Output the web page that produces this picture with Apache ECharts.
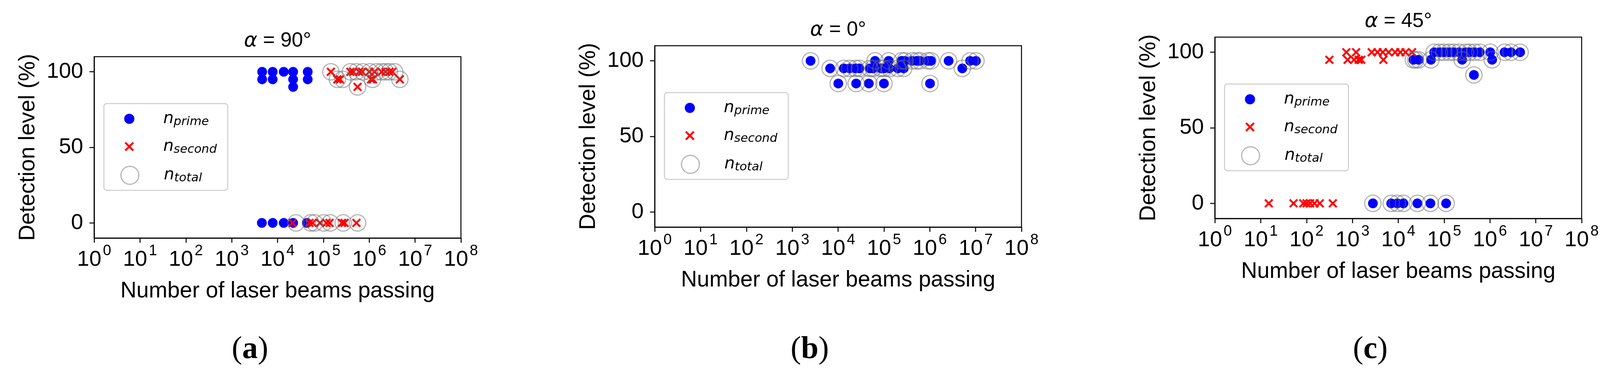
<!DOCTYPE html>
<html><head><meta charset="utf-8">
<script src="https://cdn.jsdelivr.net/npm/echarts@6/dist/echarts.min.js"></script>
<style>html,body{margin:0;padding:0;background:#fff}#main{width:4140px;height:962px}</style>
</head><body><div id="main"></div>
<script>
// ---------------- data ----------------
const panelAngles = ['90°', '0°', '45°'];
const panelLetters = ['a', 'b', 'c'];
const legendNames = ['prime', 'second', 'total'];
const xAxisTitle = 'Number of laser beams passing';
const yAxisTitle = 'Detection level (%)';
const yTickValues = [0, 50, 100];
const xMin = 1, xMax = 1e8;
const yMin = -10, yMax = 110;

// panel (a)  alpha = 90°
const a_prime = [[4620,100],[4620,95],[7840,100],[7840,95],[13650,100],[21870,100],[21870,95],[21870,90],[45500,100],[45500,95],
  [4550,0],[7840,0],[13650,0],[21870,0],[43650,0]];
const a_second = [[145600,100],[201800,95],[230000,95],[388000,100],[450000,100],[556000,90],[600000,100],[700000,100],[1000000,100],
  [1100000,95],[1200000,95],[1300000,100],[1866000,100],[2270000,100],[2760000,100],[3200000,100],[4650000,95],
  [21200,0],[49500,0],[58300,0],[84300,0],[116000,0],[136500,0],[254000,0],[290000,0],[526000,0]];
const a_total = [[145600,100],[201800,95],[265000,95],[388000,100],[521000,100],[722000,100],[556000,90],[1035000,100],[1180000,95],
  [1435000,100],[1866000,100],[2270000,100],[2760000,100],[3590000,100],[4650000,95],
  [25200,0],[52800,0],[64300,0],[101600,0],[141000,0],[271000,0],[556000,0]];

// panel (b)  alpha = 0°
const b_prime = [[2512,100],[64000,100],[127000,100],[244000,100],[288000,100],[413000,100],[519000,100],[611000,100],[905000,100],
  [1065000,100],[2575000,100],[7580000,100],[10160000,100],
  [6700,95],[13300,95],[17860,95],[23970,95],[29200,95],[49300,95],[58000,95],[85900,95],[101000,95],[131500,95],[201000,95],[270000,95],[5120000,95],
  [10100,85],[24800,85],[46800,85],[100000,85],[1012000,85]];
const b_second = [];
const b_total = [[2512,100],[64000,100],[127000,100],[244000,100],[288000,100],[413000,100],[519000,100],[611000,100],[905000,100],
  [1065000,100],[2575000,100],[7580000,100],[10160000,100],
  [6700,95],[13300,95],[17860,95],[23970,95],[29200,95],[49300,95],[58000,95],[85900,95],[101000,95],[131500,95],[201000,95],[270000,95],[5120000,95],
  [10100,85],[24800,85],[46800,85],[100000,85],[1012000,85]];

// panel (c)  alpha = 45°
const c_prime = [[60900,100],[79000,100],[99300,100],[129000,100],[162000,100],[211000,100],[292000,100],[356000,100],[462000,100],
  [600000,100],[1012000,100],[2080000,100],[2880000,100],[4550000,100],
  [21400,95],[27800,95],[51700,95],[248000,95],[1117000,95],[447000,85],
  [2800,0],[7030,0],[9550,0],[12970,0],[26100,0],[50300,0],[110700,0]];
const c_second = [[738,100],[1205,100],[2640,100],[3540,100],[4600,100],[6170,100],[8560,100],[11130,100],[14430,100],[20030,100],
  [315,95],[787,95],[1092,95],[1372,95],[1563,95],[4750,95],
  [15,0],[52,0],[85,0],[100,0],[120,0],[149,0],[194,0],[374,0]];
const c_total = [[60900,100],[79000,100],[99300,100],[129000,100],[162000,100],[211000,100],[292000,100],[356000,100],[462000,100],
  [600000,100],[1012000,100],[2080000,100],[2880000,100],[4550000,100],
  [21400,95],[24000,95],[27800,95],[51700,95],[248000,95],[1117000,95],[447000,85],
  [2800,0],[7030,0],[9550,0],[12970,0],[26100,0],[50300,0],[110700,0]];

const panelData = [
  [a_prime, a_second, a_total],
  [b_prime, b_second, b_total],
  [c_prime, c_second, c_total]
];

// ---------------- layout / style ----------------
const SANS = '"Liberation Sans", Arial, Helvetica, sans-serif';
const DEJAVU = '"DejaVu Sans", sans-serif';
const SERIF = '"Liberation Serif", "Times New Roman", serif';
const gridPos = [{left: 241, top: 145}, {left: 1676, top: 117}, {left: 3110, top: 95}];
const GW = 939, GH = 464;
const letterX = [640, 2073, 3508];
const XPATH = 'path://M0,1.5L1.5,0L5,3.5L8.5,0L10,1.5L6.5,5L10,8.5L8.5,10L5,6.5L1.5,10L0,8.5L3.5,5Z';
const RING = 'rgba(110,110,110,0.5)';

const chart = echarts.init(document.getElementById('main'), null, {renderer: 'canvas'});

const grid = [], xAxis = [], yAxis = [], series = [], legend = [], graphic = [];

gridPos.forEach((g, i) => {
  grid.push({left: g.left, top: g.top, width: GW, height: GH, show: true,
    borderColor: '#000', borderWidth: 2.5, backgroundColor: 'transparent', containLabel: false});
  xAxis.push({
    gridIndex: i, type: 'log', logBase: 10, min: xMin, max: xMax, splitNumber: 8,
    name: xAxisTitle, nameLocation: 'middle', nameGap: 108,
    nameTextStyle: {fontSize: 57, fontFamily: SANS, color: '#000'},
    axisLine: {show: true, onZero: false, lineStyle: {color: '#000', width: 2.5}},
    axisTick: {show: true, inside: false, length: 12, lineStyle: {color: '#000', width: 2.5}},
    minorTick: {show: false}, splitLine: {show: false},
    axisLabel: {
      interval: 0, margin: 15, color: '#000',
      formatter: v => '{b|10}{s|' + Math.round(Math.log10(v)) + '}',
      rich: {
        b: {fontSize: 56, lineHeight: 56, fontFamily: SANS, color: '#000', padding: [26, 0, 0, 0]},
        s: {fontSize: 38, lineHeight: 38, fontFamily: SANS, color: '#000', verticalAlign: 'top', padding: [0, 0, 0, 4]}
      }
    }
  });
  yAxis.push({
    gridIndex: i, type: 'value', min: yMin, max: yMax,
    name: yAxisTitle, nameLocation: 'middle', nameGap: 140, nameRotate: 90,
    nameTextStyle: {fontSize: 57, fontFamily: SANS, color: '#000'},
    axisLine: {show: true, onZero: false, lineStyle: {color: '#000', width: 2.5}},
    axisTick: {show: true, inside: false, length: 12, customValues: yTickValues, lineStyle: {color: '#000', width: 2.5}},
    splitLine: {show: false},
    axisLabel: {customValues: yTickValues, margin: 28, fontSize: 56, fontFamily: SANS, color: '#000'}
  });

  const [pr, se, to] = panelData[i];
  series.push({name: 'prime', type: 'scatter', xAxisIndex: i, yAxisIndex: i, data: pr,
    symbol: 'circle', symbolSize: 25, itemStyle: {color: '#0000ff', opacity: 1}, z: 2, emphasis: {disabled: true}});
  series.push({name: 'second', type: 'scatter', xAxisIndex: i, yAxisIndex: i, data: se,
    symbol: XPATH, symbolSize: 23, itemStyle: {color: '#ff0000', opacity: 1}, z: 3, emphasis: {disabled: true}});
  series.push({name: 'total', type: 'scatter', xAxisIndex: i, yAxisIndex: i, data: to,
    symbol: 'circle', symbolSize: 42, itemStyle: {color: 'rgba(0,0,0,0)', borderColor: RING, borderWidth: 3, opacity: 1}, z: 4, emphasis: {disabled: true}});

  // legend box
  const bx = g.left + 25, by = g.top + 120;
  graphic.push({type: 'rect', z: 5, silent: true, shape: {x: bx, y: by, width: 317, height: 222, r: 7},
    style: {fill: 'rgba(255,255,255,0.8)', stroke: '#cccccc', lineWidth: 2.5}});
  const sizes = [26, 24, 46];
  const icons = ['circle', XPATH, 'circle'];
  const rowC = [41, 112, 182];
  legendNames.forEach((nm, j) => {
    const w = sizes[j];
    legend.push({
      show: true, z: 10, selectedMode: false, padding: 0, orient: 'horizontal',
      left: bx + 65 - w / 2, top: by + rowC[j] - 23,
      itemWidth: w, itemHeight: w,
      data: [{name: nm, icon: icons[j]}],
      itemStyle: j === 2 ? {borderWidth: 3, borderColor: RING, color: 'rgba(0,0,0,0)'} : {opacity: 1},
      formatter: name => '{sp|}{n|n}{s|' + name + '}',
      textStyle: {
        color: '#000',
        rich: {
          sp: {width: 82 - w / 2},
          n: {fontSize: 42, lineHeight: 46, fontFamily: DEJAVU, fontStyle: 'italic', color: '#000'},
          s: {fontSize: 31, lineHeight: 31, fontFamily: DEJAVU, fontStyle: 'italic', color: '#000', verticalAlign: 'bottom'}
        }
      }
    });
  });

  // panel title
  graphic.push({type: 'text', z: 10, silent: true, x: g.left + GW / 2, y: g.top - 40,
    style: {text: '{i|α} = ' + panelAngles[i], fontSize: 52, fontFamily: SANS, fill: '#000',
      align: 'center', verticalAlign: 'middle',
      rich: {i: {fontSize: 52, fontFamily: DEJAVU, fontStyle: 'italic', fill: '#000'}}}});
  // panel letter
  graphic.push({type: 'text', z: 10, silent: true, x: letterX[i], y: 895,
    style: {text: '{p|(}{b|' + panelLetters[i] + '}{p|)}', fontSize: 80, fontFamily: SERIF, fill: '#000',
      align: 'center', verticalAlign: 'middle',
      rich: {p: {fontSize: 80, fontFamily: SERIF, fill: '#000'},
             b: {fontSize: 80, fontFamily: SERIF, fontWeight: 'bold', fill: '#000'}}}});
});

chart.setOption({
  animation: false,
  backgroundColor: '#fff',
  grid, xAxis, yAxis, series, legend, graphic
});
</script></body></html>
